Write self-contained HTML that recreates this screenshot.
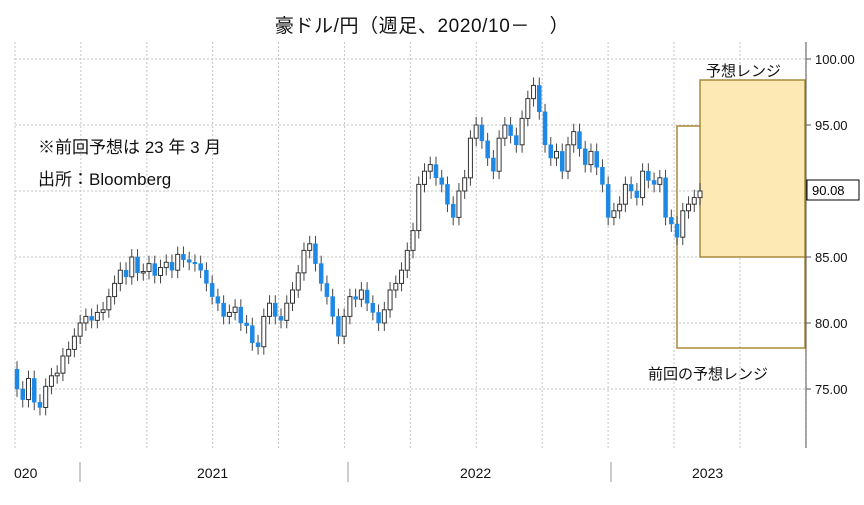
<!DOCTYPE html>
<html><head><meta charset="utf-8"><style>
body{margin:0;background:#fff;font-family:"Liberation Sans","Noto Sans CJK JP",sans-serif;}
svg text{font-family:"Liberation Sans","Noto Sans CJK JP",sans-serif;}
</style></head><body>
<svg id="chart" width="864" height="500" viewBox="0 0 864 500" xmlns="http://www.w3.org/2000/svg">
<text x="422" y="32" font-size="19" text-anchor="middle" letter-spacing="0.6" fill="#111">豪ドル/円（週足、2020/10－　）</text>
<g id="grid"></g>
<rect x="677" y="126" width="128" height="222" fill="none" stroke="#a88a3a" stroke-width="1.5"/>
<rect x="700" y="80" width="105" height="177" fill="#fde9b4" stroke="#a88a3a" stroke-width="1.5"/>
<g id="candles"></g>
<line x1="806" y1="42" x2="806" y2="448" stroke="#555"/>
<g id="yaxis"></g>
<rect x="807" y="180" width="52" height="20" fill="#fff" stroke="#000"/>
<text x="812" y="195" font-size="13" fill="#000">90.08</text>
<text x="706" y="76" font-size="15" fill="#111">予想レンジ</text>
<text x="648" y="379" font-size="15" fill="#111">前回の予想レンジ</text>
<text x="38" y="153" font-size="17" fill="#111">※前回予想は 23 年 3 月</text>
<text x="38" y="185" font-size="17" fill="#111">出所：Bloomberg</text>
<g id="xaxis"></g>
</svg>
<script>
const closes=[75.0,74.2,75.8,74.0,73.6,75.2,
76.0,76.2,77.5,78.0,79.0,80.0,
80.5,80.2,80.8,81.0,82.0,83.0,
84.0,83.5,85.0,83.8,83.9,84.5,
83.6,84.2,84.6,84.0,85.2,84.8,
84.6,84.5,84.0,83.0,82.0,81.5,
80.5,80.8,81.2,80.0,79.8,78.5,
78.2,80.5,81.5,80.5,80.2,81.5,
82.5,83.8,85.5,86.0,84.5,83.0,
82.0,80.5,79.0,80.5,82.0,81.8,
82.5,81.5,80.8,80.0,81.0,82.5,
83.0,84.0,85.5,87.0,90.5,91.5,
92.0,91.0,90.5,89.0,88.0,90.0,
91.0,94.0,95.0,93.8,92.5,91.5,
94.0,95.0,94.2,93.5,95.5,97.0,
98.0,96.0,93.5,92.5,93.0,91.5,
93.5,94.5,93.2,92.0,93.0,91.8,
90.5,88.0,88.5,89.0,90.5,90.0,
89.5,91.5,90.8,90.5,91.0,88.0,
87.5,86.5,88.5,89.0,89.5,90.0];
const firstOpen=76.5;
const yTicks=[75,80,85,90,95,100];
const yTickLabels=["75.00","80.00","85.00","90.00","95.00","100.00"];
const xLabels=["020","2021","2022","2023"];
const NS="http://www.w3.org/2000/svg";
function y(v){return 389-(v-75)*13.2;}
function x(i){return 17+i*(683/(closes.length-1));}
function mk(t,a,p){const e=document.createElementNS(NS,t);for(const k in a)e.setAttribute(k,a[k]);p.appendChild(e);return e;}
const grid=document.getElementById('grid');
for(const v of yTicks){const l=mk('line',{x1:15,x2:806,y1:y(v),y2:y(v),stroke:'#c4c4c4','stroke-dasharray':'2,2'},grid);

}
for(let gx=15;gx<806;gx+=65.9){const l=mk('line',{x1:gx,x2:gx,y1:42,y2:448,stroke:'#c4c4c4','stroke-dasharray':'2,2'},grid);

}
const ya=document.getElementById('yaxis');
yTicks.forEach((v,i)=>{mk('line',{x1:806,x2:811,y1:y(v),y2:y(v),stroke:'#555'},ya);
const t=mk('text',{x:815,y:y(v)+5,'font-size':13,fill:'#111'},ya);t.textContent=yTickLabels[i];

});
const cg=document.getElementById('candles');
let prev=firstOpen;
closes.forEach((c,i)=>{const o=prev;prev=c;const hi=Math.max(o,c)+0.6,lo=Math.min(o,c)-0.6;const cx=x(i);
const g=mk('g',{},cg);


mk('line',{x1:cx,x2:cx,y1:y(hi),y2:y(lo),stroke:'#444','stroke-width':1},g);
const down=c<o;const top=y(Math.max(o,c)),h=Math.max(1.5,Math.abs(y(o)-y(c)));
mk('rect',{x:cx-2,y:top,width:4,height:h,fill:down?'#1e88e5':'#fff',stroke:down?'#1e88e5':'#333','stroke-width':down?0.5:1},g);});
const xa=document.getElementById('xaxis');
[80,348,611].forEach(px=>mk('line',{x1:px,x2:px,y1:462,y2:482,stroke:'#999'},xa));
const xlx=[14,197,460,692];
xLabels.forEach((s,i)=>{const t=mk('text',{x:xlx[i],y:478,'font-size':14,fill:'#111'},xa);t.textContent=s;

});
</script>
</body></html>
